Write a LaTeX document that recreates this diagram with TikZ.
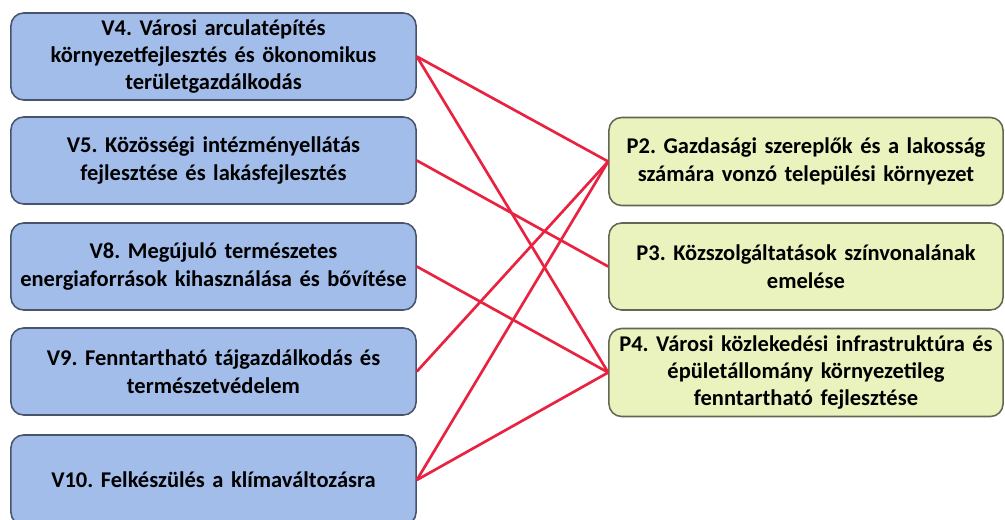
\documentclass[tikz,border=0pt]{standalone}
\usepackage{fontspec}
\setmainfont[WordSpace=0.7]{Carlito}
\usepackage{xcolor}
\usetikzlibrary{positioning}
\frenchspacing

\definecolor{vfill}{RGB}{162,189,234}
\definecolor{vline}{RGB}{72,84,108}
\definecolor{pfill}{RGB}{234,242,190}
\definecolor{pline}{RGB}{96,104,84}
\definecolor{linkred}{RGB}{232,34,64}

\tikzset{
  vbox/.style={draw=vline,fill=vfill,line width=1.1pt,rounded corners=9pt,
    minimum width=10.125cm,minimum height=2.175cm,text width=9.8cm,align=center,
    inner sep=0pt,font=\bfseries\fontsize{16}{19.5}\selectfont},
  pbox/.style={draw=pline,fill=pfill,line width=1.1pt,rounded corners=9pt,
    minimum width=9.85cm,minimum height=2.2cm,text width=9.6cm,align=center,
    inner sep=0pt,font=\bfseries\fontsize{16}{19.5}\selectfont},
  link/.style={draw=linkred,line width=1.9pt}
}

\begin{document}
\begin{tikzpicture}[x=0.025cm,y=-0.025cm]
	\useasboundingbox (0,0) rectangle (1005,519);

	% (V) left column
	\node[vbox] (v4) at (213.5,56.5) {V4. Városi arculatépítés\\környezetfejlesztés és ökonomikus\\területgazdálkodás};
	\node[vbox] (v5) at (213.5,160.5) {V5. Közösségi intézményellátás\\fejlesztése és lakásfejlesztés};
	\node[vbox] (v8) at (213.5,266.5) {V8. Megújuló természetes\\energiaforrások kihasználása és bővítése};
	\node[vbox] (v9) at (213.5,371.5) {V9. Fenntartható tájgazdálkodás és\\természetvédelem};
	\node[vbox,minimum height=2.25cm] (v10) at (213.5,480) {V10. Felkészülés a klímaváltozásra};

	% (P) right column
	\node[pbox] (p2) at (806,161.5) {P2. Gazdasági szereplők és a lakosság\\számára vonzó települési környezet};
	\node[pbox,minimum height=2.175cm] (p3) at (806,266.5) {P3. Közszolgáltatások színvonalának\\emelése};
	\node[pbox] (p4) at (806,372.5) {P4. Városi közlekedési infrastruktúra és\\épületállomány környezetileg\\fenntartható fejlesztése};

	% (V-P links)
\draw[link] (v4.east) -- (p2.west);
\draw[link] (v4.east) -- (p4.west);
\draw[link] (v5.east) -- (p3.west);
\draw[link] (v8.east) -- (p4.west);
\draw[link] (v9.east) -- (p2.west);
\draw[link] (v10.east) -- (p2.west);
\draw[link] (v10.east) -- (p4.west);

\end{tikzpicture}
\end{document}
